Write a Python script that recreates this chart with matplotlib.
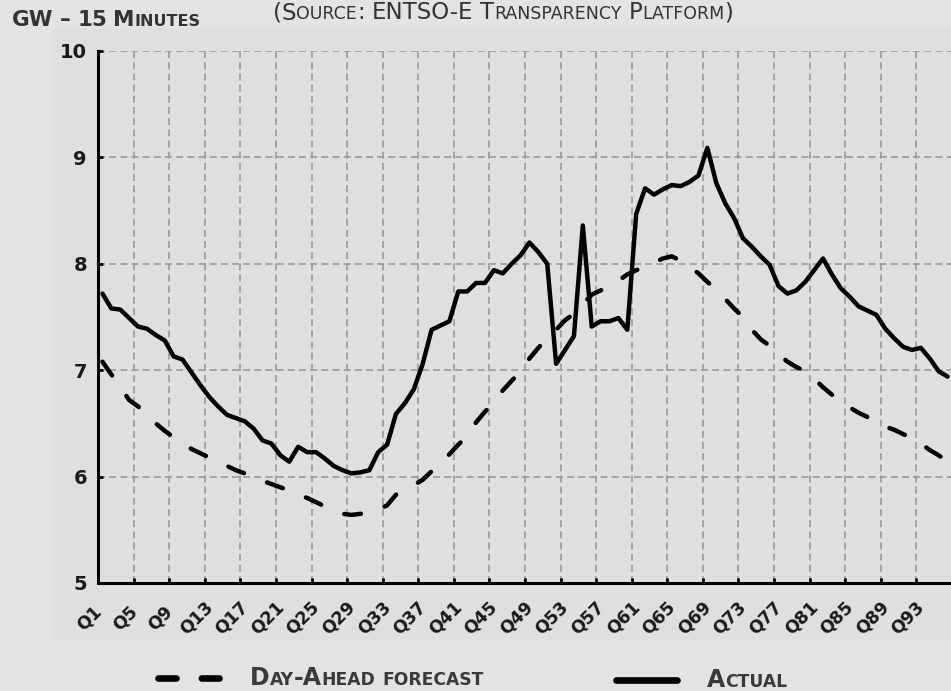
import matplotlib
matplotlib.use("Agg")
import matplotlib.pyplot as plt
import numpy as np
from matplotlib.lines import Line2D
from matplotlib.patches import Rectangle
from matplotlib.transforms import ScaledTranslation

plt.rcParams['font.family'] = ['DejaVu Sans']

# ---------------- data ----------------
categories = [f"Q{i}" for i in range(1, 97)]

actual = [7.72, 7.58, 7.57, 7.49, 7.41, 7.39, 7.33, 7.28, 7.13, 7.10,
          6.98, 6.86, 6.75, 6.66, 6.58, 6.55, 6.52, 6.45, 6.34, 6.31,
          6.20, 6.14, 6.28, 6.23, 6.23, 6.17, 6.10, 6.06, 6.03, 6.04,
          6.06, 6.23, 6.30, 6.59, 6.69, 6.82, 7.06, 7.38, 7.42, 7.46,
          7.74, 7.74, 7.82, 7.82, 7.94, 7.91, 8.00, 8.08, 8.20, 8.11,
          8.00, 7.06, 7.19, 7.32, 8.36, 7.41, 7.46, 7.46, 7.49, 7.38,
          8.47, 8.71, 8.65, 8.70, 8.74, 8.73, 8.77, 8.83, 9.09, 8.76,
          8.57, 8.43, 8.24, 8.16, 8.07, 7.99, 7.79, 7.72, 7.75, 7.83,
          7.94, 8.05, 7.90, 7.77, 7.69, 7.60, 7.56, 7.52, 7.39, 7.30,
          7.22, 7.19, 7.21, 7.11, 6.99, 6.94]

forecast = [7.08, 6.96, 6.84, 6.72, 6.66, 6.58, 6.50, 6.43, 6.37, 6.31,
            6.26, 6.22, 6.18, 6.14, 6.10, 6.06, 6.03, 5.99, 5.96, 5.93,
            5.90, 5.87, 5.83, 5.80, 5.76, 5.72, 5.68, 5.65, 5.64, 5.65,
            5.66, 5.69, 5.73, 5.83, 5.88, 5.92, 5.97, 6.05, 6.13, 6.21,
            6.30, 6.38, 6.51, 6.61, 6.70, 6.81, 6.90, 6.99, 7.11, 7.21,
            7.30, 7.38, 7.47, 7.53, 7.62, 7.71, 7.75, 7.78, 7.84, 7.90,
            7.94, 7.97, 8.01, 8.05, 8.07, 8.03, 7.97, 7.91, 7.83, 7.76,
            7.67, 7.58, 7.50, 7.38, 7.29, 7.23, 7.15, 7.08, 7.03, 6.99,
            6.92, 6.84, 6.77, 6.72, 6.65, 6.60, 6.56, 6.52, 6.47, 6.44,
            6.40, 6.36, 6.31, 6.25, 6.20, 6.14]

x_tick_labels = categories[::4]
y_ticks = [5, 6, 7, 8, 9, 10]

title_text = "(Source: ENTSO-E Transparency Platform)"
unit_text = "GW – 15 Minutes"
legend_forecast = "Day-Ahead forecast"
legend_actual = "Actual"

# ---------------- figure ----------------
W, H = 951, 691
fig = plt.figure(figsize=(W / 100, H / 100), dpi=100)
fig.patch.set_facecolor('#e3e3e5')
fig.add_artist(Rectangle((52 / W, 1 - 640 / H), (W - 52) / W, (640 - 28) / H,
                         transform=fig.transFigure, fc='#dfdfdf', ec='none', zorder=0))

ax = fig.add_axes([98 / W, 1 - 583 / H, (952 - 98) / W, (583 - 51) / H])
ax.set_facecolor('none')
ax.set_zorder(1)

xpos = np.arange(len(categories)) + 0.5
ax.plot(xpos, forecast, color='black', lw=3.2, dashes=(3.8, 5.6),
        dash_capstyle='round', zorder=3)
ax.plot(xpos, actual, color='black', lw=3.2, solid_capstyle='round',
        solid_joinstyle='round', zorder=4)

ax.set_xlim(0, 96)
ax.set_ylim(5, 10)
ax.set_yticks(y_ticks)
ax.set_xticks(np.arange(0, 97, 4))
ax.set_xticklabels([])
ax.set_xticks(xpos[::4], x_tick_labels, minor=True)

for s in ['top', 'right']:
    ax.spines[s].set_visible(False)
for s in ['left', 'bottom']:
    ax.spines[s].set_linewidth(2.2)
    ax.spines[s].set_color('black')
    ax.spines[s].set_zorder(5)

ax.grid(True, which='major', color='#9a9a9a', lw=1.2, linestyle=(0, (4.2, 2.5)))
ax.set_axisbelow(True)
ax.tick_params(axis='both', which='major', direction='in', length=3.5, width=2,
               color='black')
ax.tick_params(axis='y', labelsize=14, pad=8, labelcolor='#1a1a1a')
ax.tick_params(axis='x', which='minor', length=0, pad=25, labelsize=12.5,
               labelrotation=45, labelcolor='#1a1a1a')

for lab in ax.get_yticklabels():
    lab.set_fontweight('bold')
off = ScaledTranslation(-13 / 100, 0, fig.dpi_scale_trans)
for tick in ax.xaxis.get_minor_ticks():
    lab = tick.label1
    lab.set_fontweight('bold')
    lab.set_ha('center')
    lab.set_va('center')
    lab.set_rotation_mode('anchor')
    lab.set_transform(lab.get_transform() + off)

# ---------------- small caps text helper ----------------
renderer = fig.canvas.get_renderer()


def smallcaps(x, y, text, big, small, align='left', **kw):
    runs = []
    for ch in text:
        kind = 'space' if ch == ' ' else ('small' if ch.islower() else 'big')
        if runs and runs[-1][0] == kind:
            runs[-1][1] += ch
        else:
            runs.append([kind, ch])
    arts = []
    cx = 0.0
    for kind, s in runs:
        if kind == 'space':
            cx += len(s) * big * 0.30 * 100 / 72
            continue
        size = small if kind == 'small' else big
        t = fig.text(0, 1 - y / H, s.upper(), fontsize=size, va='baseline',
                     ha='left', **kw)
        arts.append((t, cx))
        cx += t.get_window_extent(renderer=renderer).width
    start = x - cx / 2 if align == 'center' else x
    for t, px in arts:
        t.set_x((start + px) / W)
    return cx


smallcaps(503, 19, title_text, 16.5, 12.5, align='center', color='#333333')
smallcaps(12, 26, unit_text, 15.5, 11.5, color='#333333', fontweight='bold')

# legend
fig.add_artist(Line2D([158 / W, 219 / W], [1 - 678 / H] * 2, transform=fig.transFigure,
                      color='black', lw=4.8, dashes=(2.7, 3.8), dash_capstyle='round'))
fig.add_artist(Line2D([616 / W, 677 / W], [1 - 680 / H] * 2, transform=fig.transFigure,
                      color='black', lw=4.8, solid_capstyle='round'))
smallcaps(250, 685, legend_forecast, 17, 12.3, color='#3a3a3a', fontweight='bold')
smallcaps(707, 687, legend_actual, 17, 12.3, color='#3a3a3a', fontweight='bold')

fig.savefig('out.png', dpi=100, facecolor=fig.get_facecolor())
